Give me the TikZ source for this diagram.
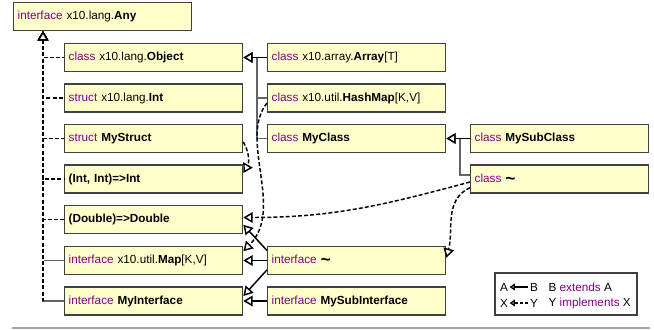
\documentclass[tikz,border=0pt]{standalone}
\usepackage{fontspec}
\setmainfont{Liberation Sans}
\usetikzlibrary{arrows.meta}
\definecolor{boxfill}{RGB}{255,255,204}
\definecolor{boxline}{RGB}{64,64,64}
\definecolor{kwcol}{RGB}{128,0,128}
\definecolor{trunk}{RGB}{100,100,100}
\newcommand{\kwd}[1]{\textcolor{kwcol}{#1}}
\newcommand{\tld}{\textbf{\fontsize{13}{10}\selectfont\raisebox{-0.2ex}{\textasciitilde}}}
\begin{document}
\begin{tikzpicture}[x=0.75pt,y=0.75pt,
  box/.style={draw=boxline, fill=boxfill, line width=1pt, anchor=west,
    minimum height=21pt, text width=127.5pt, inner xsep=3pt, inner ysep=0pt,
    align=left, font=\fontsize{8.8}{10}\selectfont},
  ext/.style={draw=black, line width=1.1pt, -{Triangle[length=7pt,width=8pt,fill=white]}},
  extg/.style={ext, draw=trunk, line width=0.8pt},
  impl/.style={ext, dash pattern=on 3pt off 1.6pt},
  implr/.style={draw=black, line width=1.1pt, dash pattern=on 3pt off 1.6pt,
    {Triangle[length=7pt,width=8pt,fill=white]}-},
  lt/.style={font=\fontsize{8.8}{10}\selectfont, inner sep=1pt},
  legext/.style={draw=black, line width=1.1pt, -{Triangle[length=4pt,width=5pt,fill=white]}},
  legimpl/.style={legext, dash pattern=on 2.5pt off 1.5pt},
]
\useasboundingbox (0,0) rectangle (654,329);
% left column
\node[box] (any)  at (13,312.5) {\kwd{interface} x10.lang.\textbf{Any}};
\node[box] (obj)  at (64,271.5) {\kwd{class} x10.lang.\textbf{Object}};
\node[box] (int)  at (64,231)   {\kwd{struct} x10.lang.\textbf{Int}};
\node[box] (mys)  at (64,190.5) {\kwd{struct} \textbf{MyStruct}};
\node[box] (ii)   at (64,150)   {\textbf{(Int, Int)=>Int}};
\node[box] (dd)   at (64,109.5) {\textbf{(Double)=>Double}};
\node[box] (map)  at (64,68.5)  {\kwd{interface} x10.util.\textbf{Map}[K,V]};
\node[box] (myif) at (64,28)    {\kwd{interface} \textbf{MyInterface}};
% middle column
\node[box] (arr)  at (267,271.5) {\kwd{class} x10.array.\textbf{Array}[T]};
\node[box] (hm)   at (267,231)   {\kwd{class} x10.util.\textbf{HashMap}[K,V]};
\node[box] (mc)   at (267,190.5) {\kwd{class} \textbf{MyClass}};
\node[box] (it)   at (267,68.5)  {\kwd{interface} \tld};
\node[box] (msi)  at (267,28)    {\kwd{interface} \textbf{MySubInterface}};
% right column
\node[box] (msc)  at (470,190.5) {\kwd{class} \textbf{MySubClass}};
\node[box] (ct)   at (470,150)   {\kwd{class} \tld};

% edges to Any
\path (any.south west) ++(30,0) coordinate (anyin);
\draw[extg] (map.west) -| (anyin);
\draw[extg] (myif.west) -| (anyin);
\draw[implr, preaction={draw=white, solid, line width=1.3pt}] (anyin) -- (anyin |- myif.west);
\foreach \n in {obj,int,mys,ii,dd} \draw[implr] (anyin) |- (\n.west);

% edges to Object
\draw[extg] (hm.west) -- ++(-10,0) |- (obj.east);
\draw[extg] (mc.west) -- ++(-10,0) |- (obj.east);
\draw[ext] (arr.west) -- (obj.east);

% edges to MyClass
\draw[extg] ([yshift=3pt]ct.west) -- ++(-10,0) |- (mc.east);
\draw[ext] (msc.west) -- (mc.east);

% implements curves
\draw[impl] ([yshift=-2.25pt]ct.west) to[out=195,in=0] ([yshift=1.5pt]dd.east);
\draw[impl] ([yshift=-6.5pt]ct.west) to[out=205,in=75] ([yshift=2pt]it.east);
\draw[impl] ([yshift=-2.6pt]mys.east) to[out=-60,in=60] ([yshift=4.5pt]ii.east);
\draw[impl] ([yshift=-3.75pt]hm.west) .. controls (238,190) and (285,120) .. ([yshift=7pt]map.east);

% interface ~ and MySubInterface
\draw[ext] ([yshift=7.5pt]it.west) -- ([yshift=-4pt]dd.east);
\draw[ext] (it.west) -- (map.east);
\draw[ext] ([yshift=-7pt]it.west) -- ([yshift=3.75pt]myif.east);
\draw[ext] (msi.west) -- (myif.east);

% separator
\draw[black!35, line width=1pt] (12,1) -- (650,1);

% legend
\node[draw=boxline, line width=1pt, minimum width=106.5pt, minimum height=31.5pt] (leg) at (566,35) {};
\node[lt] (la) at (504,42) {A};
\node[lt] (lb) at (534,42) {B};
\draw[legext] (lb) -- (la);
\node[lt, anchor=west] (l1) at (547,42) {B \kwd{extends} A};
\node[lt] (lx) at (504,26) {X};
\node[lt] (ly) at (534,26) {Y};
\draw[legimpl] (ly) -- (lx);
\node[lt, anchor=west] (l2) at (547,26) {Y \kwd{implements} X};
\end{tikzpicture}
\end{document}
